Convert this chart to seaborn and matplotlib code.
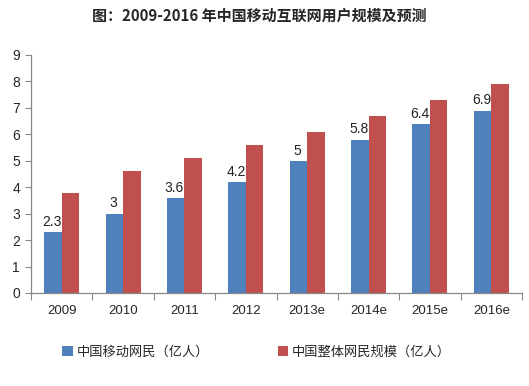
import matplotlib
matplotlib.use("Agg")
import matplotlib.pyplot as plt
import seaborn as sns
import pandas as pd
import numpy as np
from matplotlib.ticker import FixedLocator, NullFormatter

years = ["2009", "2010", "2011", "2012", "2013e", "2014e", "2015e", "2016e"]
mobile = [2.3, 3.0, 3.6, 4.2, 5.0, 5.8, 6.4, 6.9]
total = [3.8, 4.6, 5.1, 5.6, 6.1, 6.7, 7.3, 7.9]
mobile_labels = ["2.3", "3", "3.6", "4.2", "5", "5.8", "6.4", "6.9"]
series_names = ["中国移动网民（亿人）", "中国整体网民规模（亿人）"]
title = "图：2009-2016 年中国移动互联网用户规模及预测"

sns.set_theme(style="white")
plt.rcParams['font.family'] = ['Noto Sans CJK SC', 'DejaVu Sans']

df = pd.DataFrame({
    "year": years * 2,
    "value": mobile + total,
    "series": [series_names[0]] * len(years) + [series_names[1]] * len(years),
})

fig = plt.figure(figsize=(5.29, 3.86), dpi=100)
ax = fig.add_axes([31/529, 1 - 293/386, (522-31)/529, (293-55)/386])

sns.barplot(data=df, x="year", y="value", hue="series", order=years,
            hue_order=series_names, palette=["#4F81BD", "#C0504D"],
            width=0.57, saturation=1, ax=ax, legend=True, linewidth=0)

ax.set_ylim(0, 9)
ax.set_xlim(-0.5, len(years) - 0.5)
ax.set_yticks(range(0, 10))
ax.set_xlabel("")
ax.set_ylabel("")
ax.tick_params(axis="y", labelsize=10, length=4, color="#888888", left=True, width=0.8, pad=4)
ax.tick_params(axis="x", which="major", labelsize=9.5, length=0, pad=9)
ax.xaxis.set_minor_locator(FixedLocator(np.arange(-0.5, len(years), 1.0)))
ax.xaxis.set_minor_formatter(NullFormatter())
ax.tick_params(axis="x", which="minor", length=5, color="#888888", bottom=True, width=0.8)
for lbl in ax.get_xticklabels() + ax.get_yticklabels():
    lbl.set_fontfamily(['Liberation Sans', 'DejaVu Sans'])

for s in ["top", "right"]:
    ax.spines[s].set_visible(False)
for s in ["left", "bottom"]:
    ax.spines[s].set_color("#888888")
    ax.spines[s].set_linewidth(0.9)

# value labels over mobile bars
cont = ax.containers[0]
for bar, lab in zip(cont, mobile_labels):
    ax.text(bar.get_x() + bar.get_width() / 2 - 0.02, bar.get_height() + 0.12, lab,
            ha="center", va="bottom", fontsize=10, color="#222222",
            fontfamily=['Liberation Sans', 'DejaVu Sans'])

leg = ax.get_legend()
handles, labels = ax.get_legend_handles_labels()
leg.remove()
fig.legend(handles, labels, loc="center", bbox_to_anchor=(0.485, 1 - 352/386), ncol=2,
           frameon=False, fontsize=9.5, handlelength=0.8, handleheight=0.8,
           handletextpad=0.3, columnspacing=5.2)

fig.text(0.49, 1 - 16/386, title, ha="center", va="center", fontsize=10.8, fontweight="bold")

fig.savefig("out.png", dpi=100)
